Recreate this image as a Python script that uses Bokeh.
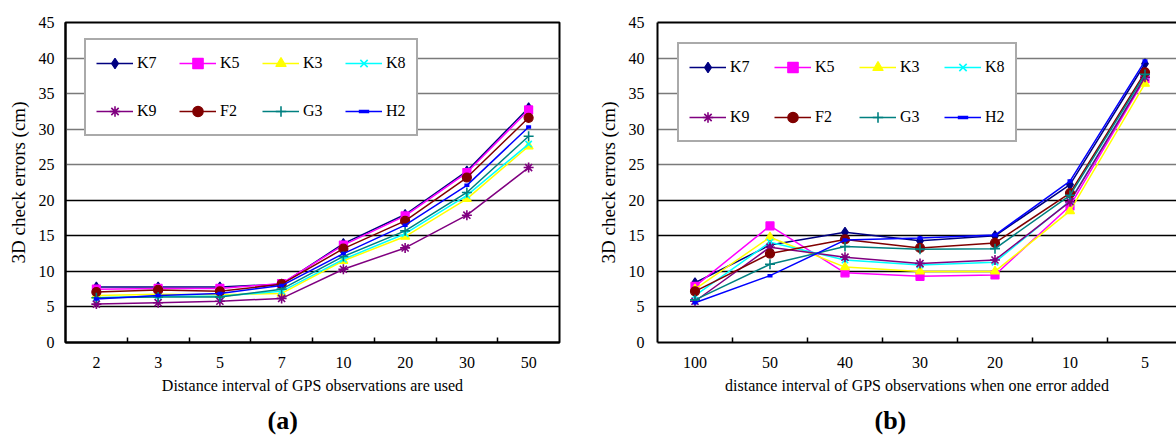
from bokeh.plotting import figure
from bokeh.models import (Range1d, FixedTicker, Legend, LegendItem, Grid, LinearAxis, Title)
from bokeh.layouts import row
from bokeh.embed import file_html
from bokeh.resources import INLINE

series_names = ["K7", "K5", "K3", "K8", "K9", "F2", "G3", "H2"]
series_colors = ["#000080", "#FF00FF", "#FFFF00", "#00FFFF", "#800080", "#800000", "#008080", "#0000FF"]
series_markers = ["diamond", "square", "triangle", "x", "asterisk", "circle", "cross", "dash"]
series_sizes = [10, 8, 9, 9, 10, 9, 10, 5]
series_mlw = [1.2, 1.2, 1.2, 1.6, 1.6, 1.2, 1.6, 3.5]

# Panel (a)
cats_a = ["2", "3", "5", "7", "10", "20", "30", "50"]
a_K7 = [7.8, 7.8, 7.8, 8.2, 13.9, 18.0, 24.1, 33.0]
a_K5 = [7.5, 7.6, 7.6, 8.3, 13.7, 17.8, 23.9, 32.7]
a_K3 = [6.6, 6.8, 6.7, 6.9, 11.5, 14.9, 20.2, 27.6]
a_K8 = [6.3, 6.5, 6.5, 7.2, 11.7, 15.3, 20.7, 27.9]
a_K9 = [5.4, 5.6, 5.8, 6.2, 10.3, 13.3, 17.9, 24.6]
a_F2 = [7.1, 7.4, 7.2, 8.2, 13.2, 17.1, 23.2, 31.6]
a_G3 = [6.3, 6.4, 6.4, 7.5, 12.1, 15.7, 21.1, 29.0]
a_H2 = [6.1, 6.6, 6.9, 8.0, 12.5, 16.5, 22.1, 30.3]

# Panel (b)
cats_b = ["100", "50", "40", "30", "20", "10", "5"]
b_K7 = [8.4, 13.7, 15.5, 14.3, 15.0, 22.2, 39.2]
b_K5 = [7.9, 16.4, 9.8, 9.3, 9.5, 19.2, 37.1]
b_K3 = [7.5, 14.8, 10.6, 10.0, 10.0, 18.5, 36.4]
b_K8 = [6.6, 14.1, 11.6, 10.9, 11.3, 19.9, 37.4]
b_K9 = [5.8, 13.4, 12.0, 11.1, 11.6, 19.8, 37.3]
b_F2 = [7.2, 12.5, 14.5, 13.3, 14.0, 21.0, 38.0]
b_G3 = [6.0, 11.0, 13.5, 13.1, 13.2, 20.7, 37.7]
b_H2 = [5.6, 9.4, 14.4, 14.7, 15.1, 22.7, 39.6]

y_ticks = [0, 5, 10, 15, 20, 25, 30, 35, 40, 45]
FONT = "Liberation Serif"


def make_panel(cats, series, xlabel, tag, width, height, mb_left, mb_top, mb_bottom,
               mb_right, x_end, legend_loc, legend_spacing, full_frame, y_standoff,
               tag_offset):
    n = len(cats)
    xs = list(range(1, n + 1))
    p = figure(width=width, height=height, x_range=Range1d(0.5, x_end),
               y_range=Range1d(0, 45), output_backend="svg", toolbar_location=None,
               min_border_left=mb_left, min_border_top=mb_top,
               min_border_bottom=mb_bottom, min_border_right=mb_right)
    p.background_fill_color = "white"
    p.border_fill_color = "white"
    p.xgrid.grid_line_color = None
    p.ygrid.grid_line_color = None
    xa = p.below[0]
    ya = p.left[0]
    if full_frame:
        p.outline_line_color = "black"
        p.outline_line_width = 2
    else:
        p.outline_line_color = None
        top = LinearAxis(ticker=FixedTicker(ticks=[]), major_label_text_font_size="0px",
                         major_tick_in=0, major_tick_out=0, minor_tick_in=0, minor_tick_out=0,
                         major_tick_line_color=None, minor_tick_line_color=None,
                         axis_line_width=2, axis_line_color="black", major_label_standoff=0)
        p.add_layout(top, "above")

    p.add_layout(Grid(dimension=1, ticker=FixedTicker(ticks=[5, 10, 15, 20]),
                      grid_line_color="black", grid_line_width=1.3))
    p.add_layout(Grid(dimension=1, ticker=FixedTicker(ticks=[25, 30, 35, 40]),
                      grid_line_color="#7a7a7a", grid_line_width=1.5))

    # x axis
    xa.ticker = FixedTicker(ticks=xs, minor_ticks=[x + 0.5 for x in xs[:-1]])
    xa.major_label_overrides = {x: c for x, c in zip(xs, cats)}
    xa.major_tick_line_color = None
    xa.major_tick_in = 0
    xa.major_tick_out = 0
    xa.minor_tick_in = 5
    xa.minor_tick_out = 0
    xa.minor_tick_line_color = "black"
    xa.minor_tick_line_width = 1.5
    xa.axis_line_width = 2
    xa.axis_line_color = "black"
    xa.major_label_standoff = 14
    xa.major_label_text_font = FONT
    xa.major_label_text_font_size = "16px"
    xa.major_label_text_color = "black"
    xa.axis_label = xlabel
    xa.axis_label_text_font = FONT
    xa.axis_label_text_font_size = "16px"
    xa.axis_label_text_font_style = "normal"
    xa.axis_label_text_color = "black"
    xa.axis_label_standoff = 6

    ya.ticker = FixedTicker(ticks=y_ticks)
    ya.major_tick_out = 0
    ya.major_tick_in = 0
    ya.minor_tick_line_color = None
    ya.axis_line_width = 2
    ya.axis_line_color = "black"
    ya.major_label_standoff = y_standoff
    ya.major_label_text_font = FONT
    ya.major_label_text_font_size = "16px"
    ya.major_label_text_color = "black"
    ya.axis_label = "3D check errors (cm)"
    ya.axis_label_text_font = FONT
    ya.axis_label_text_font_size = "19px"
    ya.axis_label_text_font_style = "normal"
    ya.axis_label_text_color = "black"
    ya.axis_label_standoff = 7

    items = []
    for name, color, marker, size, mlw, ys in zip(series_names, series_colors, series_markers,
                                                   series_sizes, series_mlw, series):
        lr = p.line(xs, ys, line_color=color, line_width=1.5)
        sr = p.scatter(xs, ys, marker=marker, size=size, fill_color=color,
                       line_color=color, line_width=mlw)
        items.append(LegendItem(label=name, renderers=[lr, sr]))

    leg = Legend(items=items, location=legend_loc, orientation="horizontal", ncols=4,
                 label_text_font=FONT, label_text_font_size="16px", label_text_color="black",
                 border_line_color="#555555", border_line_width=2,
                 background_fill_color="white", background_fill_alpha=1.0,
                 padding=10, spacing=legend_spacing, glyph_width=37, glyph_height=26,
                 label_height=26, label_standoff=4, margin=0)
    p.add_layout(leg, "center")

    t = Title(text=tag, align="left", text_font=FONT, text_font_size="26px",
              text_font_style="bold", text_color="black", offset=tag_offset, standoff=14)
    p.add_layout(t, "below")
    return p


H = 441
p1 = make_panel(cats_a, [a_K7, a_K5, a_K3, a_K8, a_K9, a_F2, a_G3, a_H2],
                "Distance interval of GPS observations are used", "(a)",
                width=590, height=H, mb_left=65, mb_top=22, mb_bottom=H - 343, mb_right=31,
                x_end=len(cats_a) + 0.5, legend_loc=(19, 206), legend_spacing=22,
                full_frame=True, y_standoff=11, tag_offset=202)

p2 = make_panel(cats_b, [b_K7, b_K5, b_K3, b_K8, b_K9, b_F2, b_G3, b_H2],
                "distance interval of GPS observations when one error added", "(b)",
                width=586, height=H, mb_left=67, mb_top=22, mb_bottom=H - 343, mb_right=0,
                x_end=7.42, legend_loc=(20, 200), legend_spacing=24,
                full_frame=False, y_standoff=13, tag_offset=217)

layout = row(p1, p2)
open("out.html", "w").write(file_html(layout, INLINE))
